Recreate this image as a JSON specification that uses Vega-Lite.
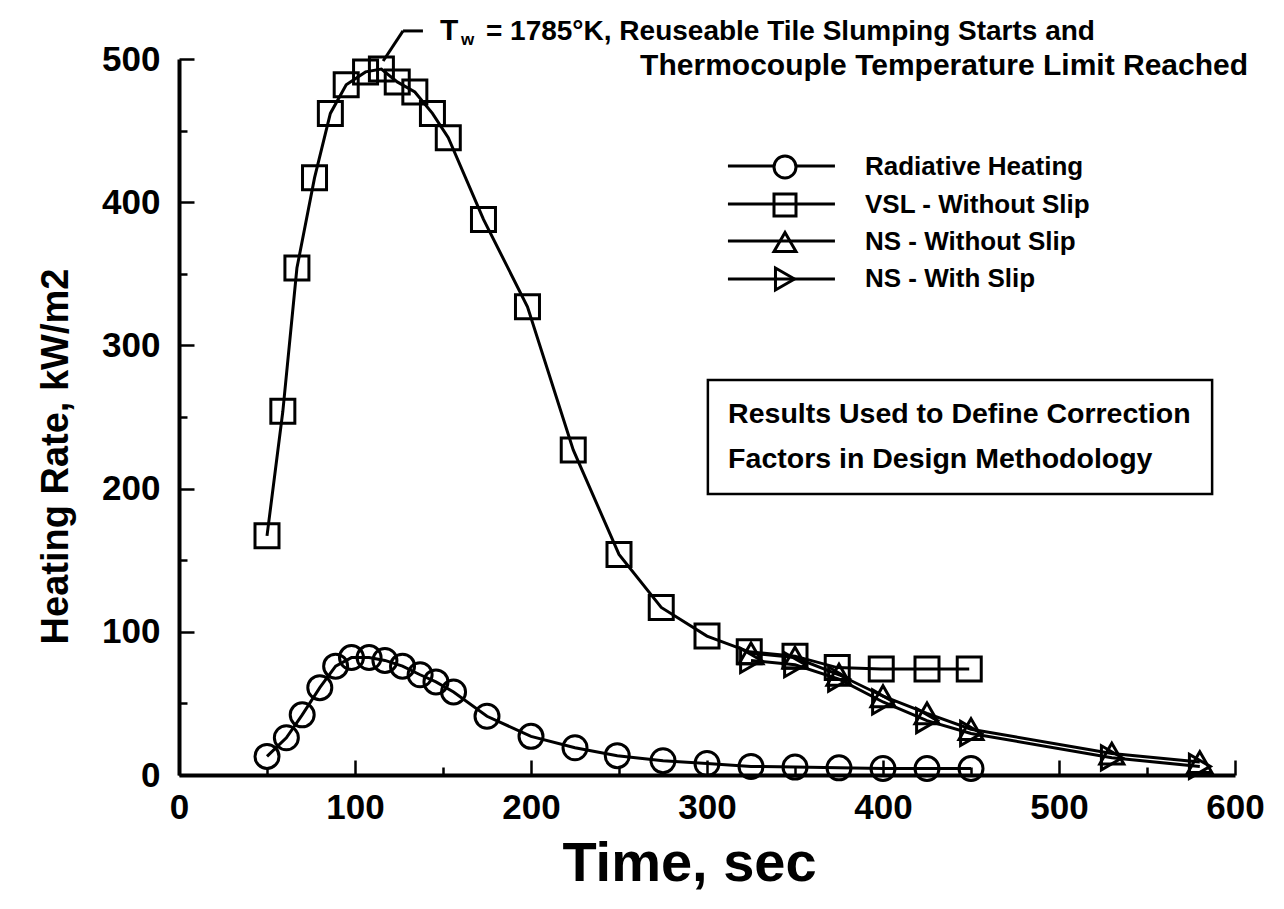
{
  "$schema": "https://vega.github.io/schema/vega-lite/v6.json",
  "width": 1056,
  "height": 716,
  "autosize": {"type": "none"},
  "padding": {"left": 179, "top": 59, "right": 49, "bottom": 134},
  "background": "white",
  "config": {
    "view": {"stroke": null},
    "font": "Liberation Sans",
    "axis": {
      "grid": false,
      "domainColor": "black",
      "domainWidth": 4,
      "tickColor": "black",
      "tickWidth": 2.5,
      "labelFont": "Liberation Sans",
      "labelFontWeight": "bold",
      "labelFontSize": 35,
      "labelColor": "black",
      "titleFont": "Liberation Sans",
      "titleFontWeight": "bold",
      "titleColor": "black",
      "labelOverlap": false,
      "labelFlush": false
    },
    "text": {"font": "Liberation Sans", "fontWeight": "bold", "color": "black"}
  },
  "datasets": {
    "curves": [
      {"series": "Radiative Heating", "time": 50, "q": 13},
      {"series": "Radiative Heating", "time": 61, "q": 26},
      {"series": "Radiative Heating", "time": 70, "q": 42},
      {"series": "Radiative Heating", "time": 80, "q": 61},
      {"series": "Radiative Heating", "time": 89, "q": 76},
      {"series": "Radiative Heating", "time": 98, "q": 82},
      {"series": "Radiative Heating", "time": 108, "q": 82},
      {"series": "Radiative Heating", "time": 117, "q": 80},
      {"series": "Radiative Heating", "time": 127, "q": 76},
      {"series": "Radiative Heating", "time": 137, "q": 70},
      {"series": "Radiative Heating", "time": 146, "q": 65},
      {"series": "Radiative Heating", "time": 156, "q": 58},
      {"series": "Radiative Heating", "time": 175, "q": 41},
      {"series": "Radiative Heating", "time": 200, "q": 27},
      {"series": "Radiative Heating", "time": 225, "q": 19},
      {"series": "Radiative Heating", "time": 249, "q": 13.5},
      {"series": "Radiative Heating", "time": 275, "q": 10},
      {"series": "Radiative Heating", "time": 300, "q": 8},
      {"series": "Radiative Heating", "time": 325, "q": 6},
      {"series": "Radiative Heating", "time": 350, "q": 5.5},
      {"series": "Radiative Heating", "time": 375, "q": 5},
      {"series": "Radiative Heating", "time": 400, "q": 4.5},
      {"series": "Radiative Heating", "time": 425, "q": 4.5},
      {"series": "Radiative Heating", "time": 450, "q": 4.5},
      {"series": "VSL - Without Slip", "time": 50, "q": 167},
      {"series": "VSL - Without Slip", "time": 59, "q": 254},
      {"series": "VSL - Without Slip", "time": 67, "q": 354},
      {"series": "VSL - Without Slip", "time": 77, "q": 417},
      {"series": "VSL - Without Slip", "time": 86, "q": 462},
      {"series": "VSL - Without Slip", "time": 95, "q": 482},
      {"series": "VSL - Without Slip", "time": 106, "q": 491},
      {"series": "VSL - Without Slip", "time": 115, "q": 493},
      {"series": "VSL - Without Slip", "time": 124, "q": 484},
      {"series": "VSL - Without Slip", "time": 134, "q": 477},
      {"series": "VSL - Without Slip", "time": 144, "q": 462},
      {"series": "VSL - Without Slip", "time": 153, "q": 445},
      {"series": "VSL - Without Slip", "time": 173, "q": 388},
      {"series": "VSL - Without Slip", "time": 198, "q": 327},
      {"series": "VSL - Without Slip", "time": 224, "q": 227},
      {"series": "VSL - Without Slip", "time": 250, "q": 154},
      {"series": "VSL - Without Slip", "time": 274, "q": 117},
      {"series": "VSL - Without Slip", "time": 300, "q": 97},
      {"series": "VSL - Without Slip", "time": 324, "q": 86},
      {"series": "VSL - Without Slip", "time": 350, "q": 83},
      {"series": "VSL - Without Slip", "time": 374, "q": 75},
      {"series": "VSL - Without Slip", "time": 399, "q": 74},
      {"series": "VSL - Without Slip", "time": 425, "q": 74},
      {"series": "VSL - Without Slip", "time": 449, "q": 74},
      {"series": "NS - Without Slip", "time": 325, "q": 85},
      {"series": "NS - Without Slip", "time": 350, "q": 82},
      {"series": "NS - Without Slip", "time": 375, "q": 70},
      {"series": "NS - Without Slip", "time": 400, "q": 55},
      {"series": "NS - Without Slip", "time": 425, "q": 43},
      {"series": "NS - Without Slip", "time": 450, "q": 32},
      {"series": "NS - Without Slip", "time": 530, "q": 15},
      {"series": "NS - Without Slip", "time": 580, "q": 9},
      {"series": "NS - With Slip", "time": 325, "q": 80},
      {"series": "NS - With Slip", "time": 350, "q": 77},
      {"series": "NS - With Slip", "time": 375, "q": 67},
      {"series": "NS - With Slip", "time": 400, "q": 51},
      {"series": "NS - With Slip", "time": 425, "q": 38},
      {"series": "NS - With Slip", "time": 450, "q": 29},
      {"series": "NS - With Slip", "time": 530, "q": 12},
      {"series": "NS - With Slip", "time": 580, "q": 6}
    ]
  },
  "layer": [
    {
      "data": {"name": "curves"},
      "mark": {"type": "line", "color": "black", "strokeWidth": 3},
      "encoding": {
        "x": {
          "field": "time", "type": "quantitative",
          "scale": {"domain": [0, 600], "nice": false, "zero": false},
          "axis": {
            "values": [0, 50, 100, 150, 200, 250, 300, 350, 400, 450, 500, 550, 600],
            "labelExpr": "datum.value % 100 === 0 ? datum.label : ''",
            "tickSize": {"condition": {"test": "datum.value % 100 === 0", "value": -15}, "value": -8},
            "labelPadding": 30,
            "title": "Time, sec",
            "titleFontSize": 56,
            "titleX": 510,
            "titleY": 105,
            "titleAlign": "center",
            "titleBaseline": "alphabetic"
          }
        },
        "y": {
          "field": "q", "type": "quantitative",
          "scale": {"domain": [0, 500], "nice": false, "zero": false},
          "axis": {
            "values": [0, 50, 100, 150, 200, 250, 300, 350, 400, 450, 500],
            "labelExpr": "datum.value % 100 === 0 ? datum.label : ''",
            "tickSize": {"condition": {"test": "datum.value % 100 === 0", "value": -15}, "value": -8},
            "labelPadding": 34,
            "title": "Heating Rate, kW/m2",
            "titleFontSize": 38,
            "titleAngle": -90,
            "titleX": -112,
            "titleY": 397,
            "titleAlign": "center",
            "titleBaseline": "alphabetic"
          }
        },
        "detail": {"field": "series", "type": "nominal"}
      }
    },
    {
      "data": {"name": "curves"},
      "mark": {"type": "point", "filled": false, "stroke": "black", "strokeWidth": 3, "size": 576, "opacity": 1},
      "encoding": {
        "x": {"field": "time", "type": "quantitative"},
        "y": {"field": "q", "type": "quantitative"},
        "shape": {
          "field": "series", "type": "nominal",
          "scale": {
            "domain": ["Radiative Heating", "VSL - Without Slip", "NS - Without Slip", "NS - With Slip"],
            "range": ["circle", "square", "triangle-up", "triangle-right"]
          },
          "legend": {
            "orient": "none",
            "legendX": 593,
            "legendY": 95,
            "title": null,
            "padding": 0,
            "symbolSize": 484,
            "symbolStrokeWidth": 3,
            "symbolStrokeColor": "black",
            "symbolFillColor": "transparent",
            "labelFont": "Liberation Sans",
            "labelFontSize": 26,
            "labelFontWeight": "bold",
            "labelColor": "black",
            "labelOffset": 67,
            "labelLimit": 500,
            "rowPadding": 4
          }
        }
      }
    },
    {
      "data": {"values": [{}]},
      "mark": {"type": "rule", "color": "black", "strokeWidth": 3},
      "encoding": {"x": {"datum": 311.9}, "x2": {"datum": 338}, "y": {"datum": 425.3}}
    },
    {
      "data": {"values": [{}]},
      "mark": {"type": "rule", "color": "black", "strokeWidth": 3},
      "encoding": {"x": {"datum": 350.6}, "x2": {"datum": 372.7}, "y": {"datum": 425.3}}
    },
    {
      "data": {"values": [{}]},
      "mark": {"type": "rule", "color": "black", "strokeWidth": 3},
      "encoding": {"x": {"datum": 311.9}, "x2": {"datum": 372.7}, "y": {"datum": 398.7}}
    },
    {
      "data": {"values": [{}]},
      "mark": {"type": "rule", "color": "black", "strokeWidth": 3},
      "encoding": {"x": {"datum": 311.9}, "x2": {"datum": 372.7}, "y": {"datum": 372.9}}
    },
    {
      "data": {"values": [{}]},
      "mark": {"type": "rule", "color": "black", "strokeWidth": 3},
      "encoding": {"x": {"datum": 311.9}, "x2": {"datum": 372.7}, "y": {"datum": 346.4}}
    },
    {
      "data": {"values": [{}]},
      "mark": {"type": "rule", "color": "black", "strokeWidth": 3},
      "encoding": {
        "x": {"datum": 116}, "y": {"datum": 498.6},
        "x2": {"datum": 127.3}, "y2": {"datum": 519.6}
      }
    },
    {
      "data": {"values": [{}]},
      "mark": {"type": "rule", "color": "black", "strokeWidth": 3},
      "encoding": {
        "x": {"datum": 127.3}, "y": {"datum": 519.6},
        "x2": {"datum": 138.6}, "y2": {"datum": 519.6}
      }
    },
    {
      "data": {"values": [{}]},
      "mark": {"type": "text", "align": "left", "baseline": "alphabetic", "fontSize": 30},
      "encoding": {"x": {"datum": 148.3}, "y": {"datum": 513}, "text": {"value": "T"}}
    },
    {
      "data": {"values": [{}]},
      "mark": {"type": "text", "align": "left", "baseline": "alphabetic", "fontSize": 17},
      "encoding": {"x": {"datum": 160.2}, "y": {"datum": 509.8}, "text": {"value": "w"}}
    },
    {
      "data": {"values": [{}]},
      "mark": {"type": "text", "align": "left", "baseline": "alphabetic", "fontSize": 28},
      "encoding": {"x": {"datum": 174.4}, "y": {"datum": 513}, "text": {"value": "= 1785°K, Reuseable Tile Slumping Starts and"}}
    },
    {
      "data": {"values": [{}]},
      "mark": {"type": "text", "align": "left", "baseline": "alphabetic", "fontSize": 30},
      "encoding": {"x": {"datum": 262}, "y": {"datum": 488.8}, "text": {"value": "Thermocouple Temperature Limit Reached"}}
    },
    {
      "data": {"values": [{}]},
      "mark": {"type": "rect", "fill": null, "fillOpacity": 0, "stroke": "black", "strokeWidth": 2.5},
      "encoding": {
        "x": {"datum": 300.5}, "x2": {"datum": 587},
        "y": {"datum": 275.8}, "y2": {"datum": 196.2}
      }
    },
    {
      "data": {"values": [{}]},
      "mark": {"type": "text", "align": "left", "baseline": "alphabetic", "fontSize": 28.5},
      "encoding": {"x": {"datum": 312}, "y": {"datum": 245.8}, "text": {"value": "Results Used to Define Correction"}}
    },
    {
      "data": {"values": [{}]},
      "mark": {"type": "text", "align": "left", "baseline": "alphabetic", "fontSize": 28.5},
      "encoding": {"x": {"datum": 312}, "y": {"datum": 214.4}, "text": {"value": "Factors in Design Methodology"}}
    }
  ]
}
